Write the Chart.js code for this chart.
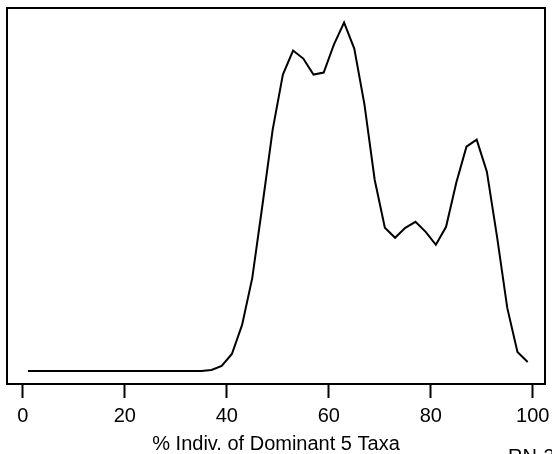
<!DOCTYPE html>
<html>
<head>
<meta charset="utf-8">
<script src="https://cdn.jsdelivr.net/npm/chart.js@4"></script>
<style>
  body { margin: 0; background: #fff; }
  #wrap { width: 552px; height: 454px; }
</style>
</head>
<body>
<div id="wrap"><canvas id="densityChart"></canvas></div>
<script>
// % of individuals in the dominant 5 taxa (x) and relative frequency (y)
const pctDominant = [1, 3, 5, 7, 9, 11, 13, 15, 17, 19, 21, 23, 25, 27, 29, 31, 33, 35, 37, 39,
  41, 43, 45, 47, 49, 51, 53, 55, 57, 59, 61, 63, 65, 67, 69, 71, 73, 75, 77, 79,
  81, 83, 85, 87, 89, 91, 93, 95, 97, 99];
const frequency = [0, 0, 0, 0, 0, 0, 0, 0, 0, 0, 0, 0, 0, 0, 0, 0, 0, 0, 0.01, 0.05,
  0.17, 0.46, 0.93, 1.66, 2.41, 2.96, 3.20, 3.12, 2.96, 2.98, 3.26, 3.48, 3.22, 2.66, 1.91, 1.43, 1.33, 1.43, 1.49, 1.39,
  1.26, 1.44, 1.88, 2.24, 2.31, 1.99, 1.34, 0.63, 0.19, 0.09];
const xTicks = [0, 20, 40, 60, 80, 100];

const font = "Arial, 'Liberation Sans', sans-serif";

// box around the plot + the cut-off label in the corner
const framePlugin = {
  id: "frame",
  afterDraw(chart) {
    const { ctx, chartArea: a } = chart;
    ctx.save();
    ctx.strokeStyle = "#000";
    ctx.lineWidth = 2;
    ctx.strokeRect(a.left, a.top, a.right - a.left, a.bottom - a.top);
    ctx.fillStyle = "#000";
    ctx.font = "20px " + font;
    ctx.textBaseline = "alphabetic";
    ctx.fillText("RN-3", 508, 463);
    ctx.restore();
  },
};

new Chart(document.getElementById("densityChart"), {
  type: "line",
  data: {
    datasets: [
      {
        data: pctDominant.map((x, i) => ({ x: x, y: frequency[i] })),
        borderColor: "#000",
        borderWidth: 2,
        pointRadius: 0,
        tension: 0,
        fill: false,
      },
    ],
  },
  options: {
    responsive: true,
    maintainAspectRatio: false,
    animation: false,
    layout: { padding: { left: 7, right: 7, top: 8, bottom: 0 } },
    plugins: { legend: { display: false }, tooltip: { enabled: false } },
    scales: {
      x: {
        type: "linear",
        min: -3.1,
        max: 102.4,
        afterBuildTicks: (scale) => {
          scale.ticks = xTicks.map((v) => ({ value: v }));
        },
        // let the "100" label hang past the frame like the original
        afterFit: (scale) => {
          scale.paddingLeft = 0;
          scale.paddingRight = 0;
        },
        grid: {
          drawOnChartArea: false,
          drawTicks: true,
          tickLength: 14,
          tickWidth: 2,
          tickColor: "#000",
        },
        border: { display: false },
        ticks: {
          color: "#000",
          padding: 6,
          maxRotation: 0,
          font: { size: 20, family: font },
        },
        title: {
          display: true,
          text: "% Indiv. of Dominant 5 Taxa",
          color: "#000",
          padding: { top: 0, bottom: 0 },
          font: { size: 20, family: font, lineHeight: 1.0 },
        },
      },
      y: {
        display: false,
        min: -0.13,
        max: 3.625,
      },
    },
  },
  plugins: [framePlugin],
});
</script>
</body>
</html>
